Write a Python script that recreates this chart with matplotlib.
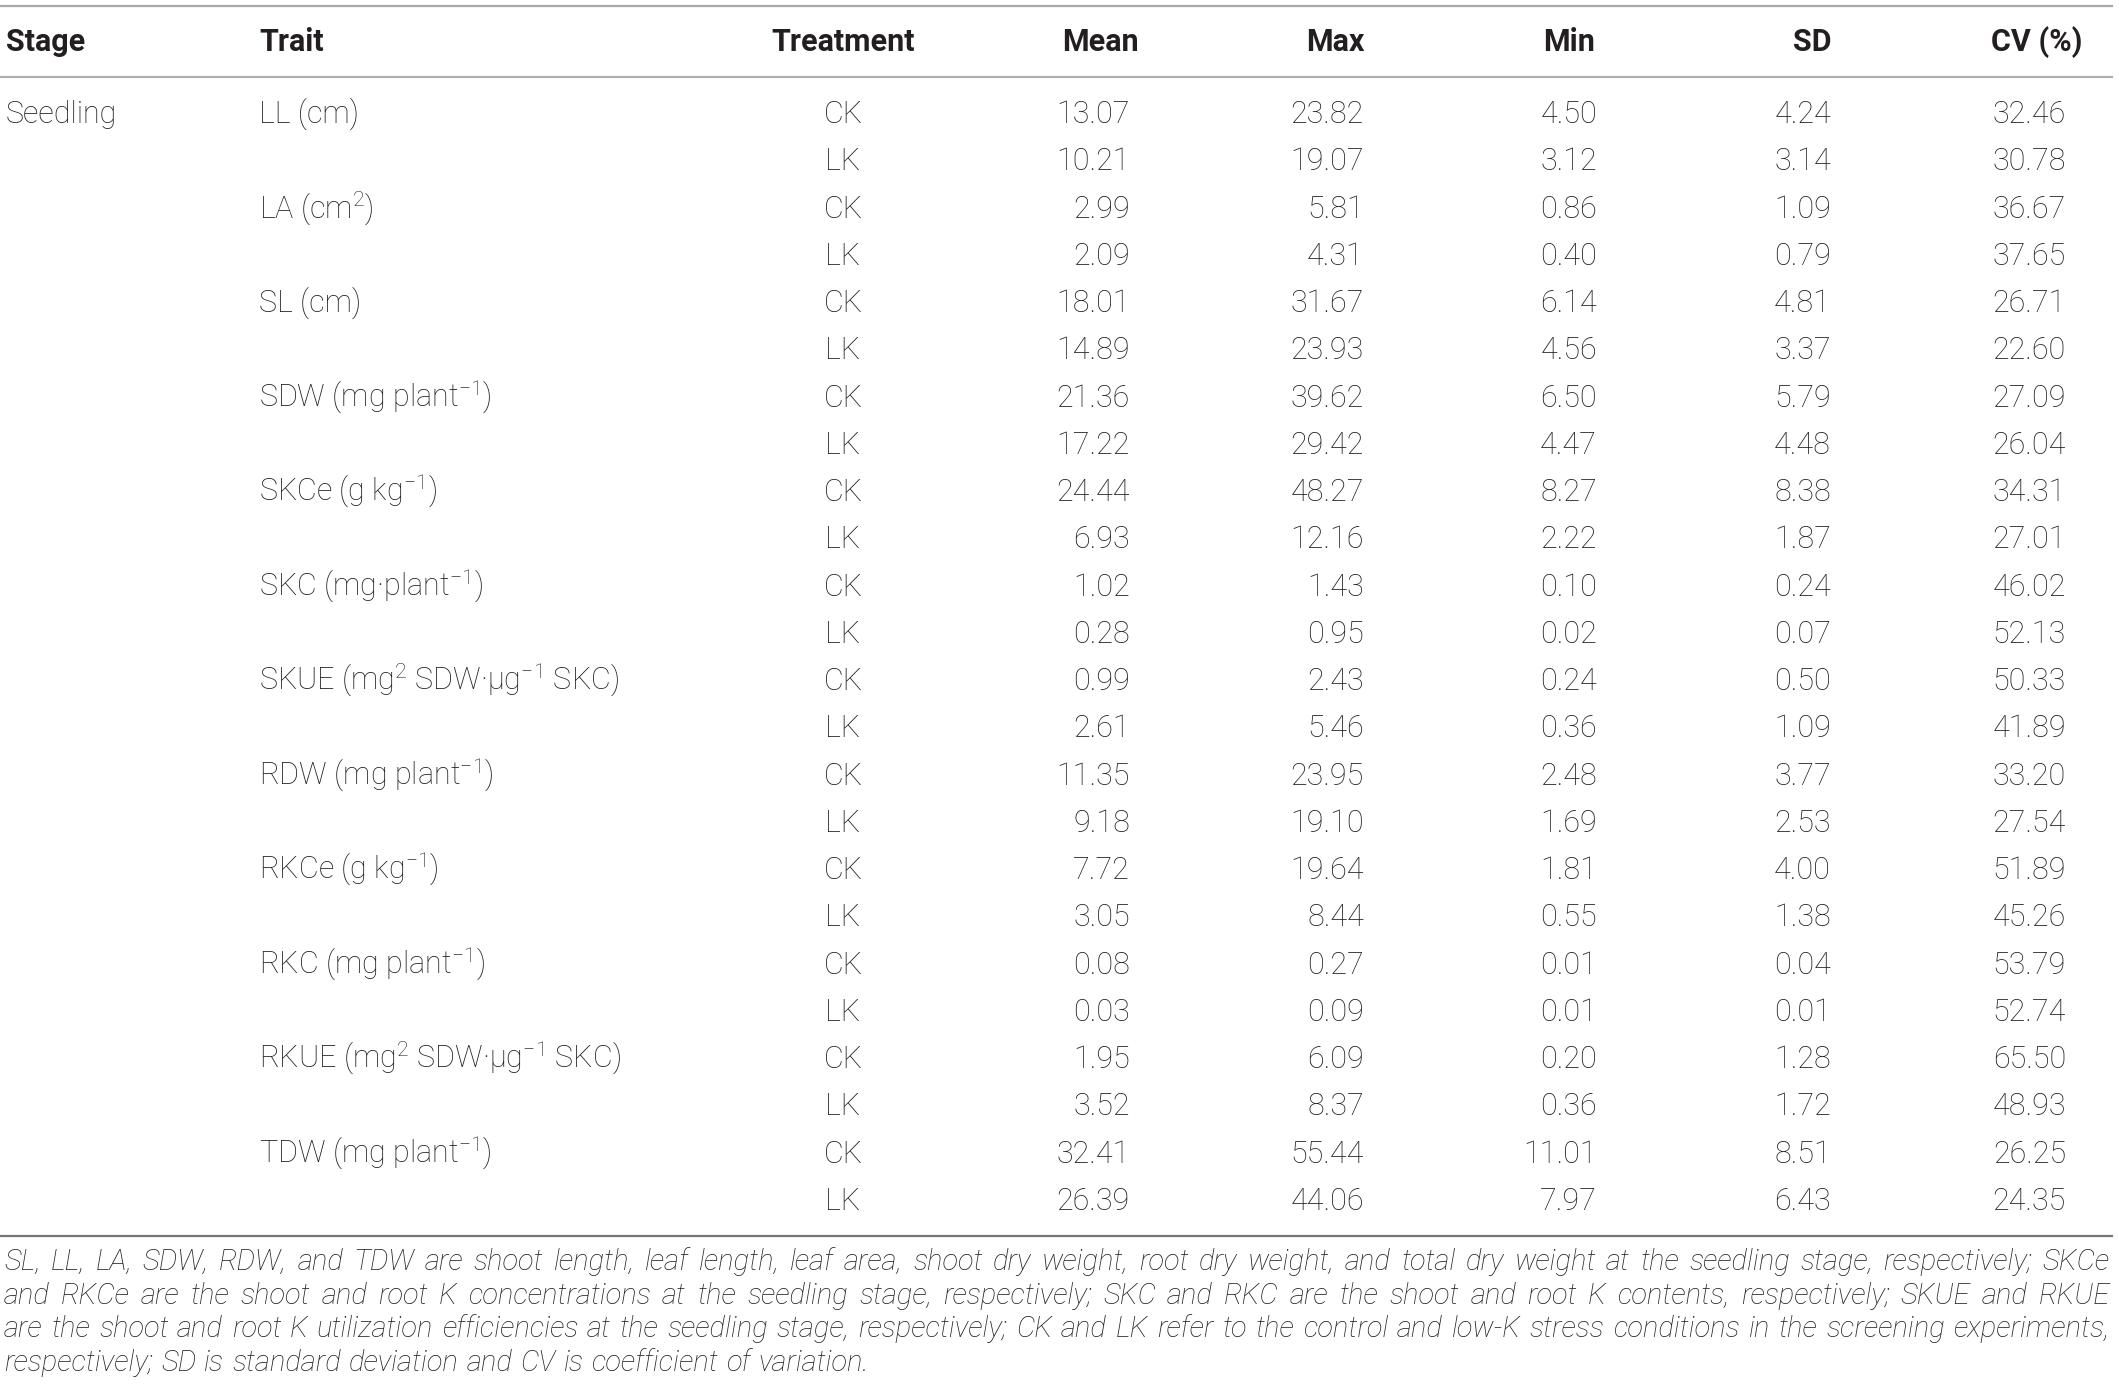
import matplotlib
matplotlib.use("Agg")
import matplotlib.pyplot as plt

plt.rcParams['font.family'] = ['Roboto', 'DejaVu Sans']
plt.rcParams['mathtext.fontset'] = 'custom'
plt.rcParams['mathtext.rm'] = 'Roboto:light'
plt.rcParams['mathtext.it'] = 'Roboto:light'
plt.rcParams['mathtext.default'] = 'rm'

# table data
headers = ["Stage", "Trait", "Treatment", "Mean", "Max", "Min", "SD", "CV (%)"]
stage = "Seedling"
traits = ["LL (cm)", "LA (cm$^{2}$)", "SL (cm)", "SDW (mg plant$^{-1}$)",
          "SKCe (g kg$^{-1}$)", "SKC (mg·plant$^{-1}$)",
          "SKUE (mg$^{2}$ SDW·µg$^{-1}$ SKC)", "RDW (mg plant$^{-1}$)",
          "RKCe (g kg$^{-1}$)", "RKC (mg plant$^{-1}$)",
          "RKUE (mg$^{2}$ SDW·µg$^{-1}$ SKC)", "TDW (mg plant$^{-1}$)"]
treatments = ["CK", "LK"]
mean = [13.07, 10.21, 2.99, 2.09, 18.01, 14.89, 21.36, 17.22, 24.44, 6.93, 1.02, 0.28,
        0.99, 2.61, 11.35, 9.18, 7.72, 3.05, 0.08, 0.03, 1.95, 3.52, 32.41, 26.39]
maxv = [23.82, 19.07, 5.81, 4.31, 31.67, 23.93, 39.62, 29.42, 48.27, 12.16, 1.43, 0.95,
        2.43, 5.46, 23.95, 19.10, 19.64, 8.44, 0.27, 0.09, 6.09, 8.37, 55.44, 44.06]
minv = [4.50, 3.12, 0.86, 0.40, 6.14, 4.56, 6.50, 4.47, 8.27, 2.22, 0.10, 0.02,
        0.24, 0.36, 2.48, 1.69, 1.81, 0.55, 0.01, 0.01, 0.20, 0.36, 11.01, 7.97]
sd = [4.24, 3.14, 1.09, 0.79, 4.81, 3.37, 5.79, 4.48, 8.38, 1.87, 0.24, 0.07,
      0.50, 1.09, 3.77, 2.53, 4.00, 1.38, 0.04, 0.01, 1.28, 1.72, 8.51, 6.43]
cv = [32.46, 30.78, 36.67, 37.65, 26.71, 22.60, 27.09, 26.04, 34.31, 27.01, 46.02, 52.13,
      50.33, 41.89, 33.20, 27.54, 51.89, 45.26, 53.79, 52.74, 65.50, 48.93, 26.25, 24.35]

footnote = [
    "SL, LL, LA, SDW, RDW, and TDW are shoot length, leaf length, leaf area, shoot dry weight, root dry weight, and total dry weight at the seedling stage, respectively; SKCe",
    "and RKCe are the shoot and root K concentrations at the seedling stage, respectively; SKC and RKC are the shoot and root K contents, respectively; SKUE and RKUE",
    "are the shoot and root K utilization efficiencies at the seedling stage, respectively; CK and LK refer to the control and low-K stress conditions in the screening experiments,",
    "respectively; SD is standard deviation and CV is coefficient of variation.",
]

W, H = 2119, 1397
fig = plt.figure(figsize=(W / 100, H / 100), dpi=100)
ax = fig.add_axes([0, 0, 1, 1])
ax.set_xlim(0, W)
ax.set_ylim(H, 0)
ax.axis('off')

txt = '#231f20'
fs = 22

# column anchors (pixels)
x_stage, x_trait, x_treat = 6, 259, 843
x_nums = [1130, 1364, 1597, 1831, 2066]
x_heads = [1139, 1365, 1595, 1831, 2082]

# rules
ax.plot([0, 2112], [6, 6], color='#a8a8a8', lw=1.6)
ax.plot([0, 2112], [77, 77], color='#b0b0b0', lw=1.6)
ax.plot([0, 2112], [1236, 1236], color='#777777', lw=1.6)

# header
hy = 51
hkw = dict(fontsize=fs, fontweight='bold', color=txt, va='baseline')
ax.text(x_stage, hy, headers[0], ha='left', **hkw)
ax.text(x_trait, hy, headers[1], ha='left', **hkw)
ax.text(x_treat, hy, headers[2], ha='center', **hkw)
for xh, h in zip(x_heads, headers[3:]):
    ax.text(xh, hy, h, ha='right', **hkw)

# body
bkw = dict(fontsize=fs, fontweight='light', color=txt, va='baseline')
y0, dy = 123, 47.26
cols = [mean, maxv, minv, sd, cv]
for i in range(len(mean)):
    y = y0 + i * dy
    if i == 0:
        ax.text(x_stage, y, stage, ha='left', **bkw)
    if i % 2 == 0:
        ax.text(x_trait, y, traits[i // 2], ha='left', **bkw)
    ax.text(x_treat, y, treatments[i % 2], ha='center', **bkw)
    for xc, col in zip(x_nums, cols):
        ax.text(xc, y, f"{col[i]:.2f}", ha='right', **bkw)

# footnote, justified like the journal layout
fkw = dict(fontsize=21, fontweight='light', fontstyle='italic', color=txt, va='baseline', ha='left')
renderer = fig.canvas.get_renderer()
fy0, fdy = 1270, 33.7
for k, line in enumerate(footnote):
    y = fy0 + k * fdy
    words = line.split(' ')
    ts = [ax.text(0, y, w, **fkw) for w in words]
    widths = [t.get_window_extent(renderer).width for t in ts]
    if k < len(footnote) - 1:
        gap = (2110 - 4 - sum(widths)) / (len(words) - 1)
    else:
        gap = 8
    x = 4
    for t, w in zip(ts, widths):
        t.set_x(x)
        x += w + gap

fig.savefig('out.png', dpi=100)
